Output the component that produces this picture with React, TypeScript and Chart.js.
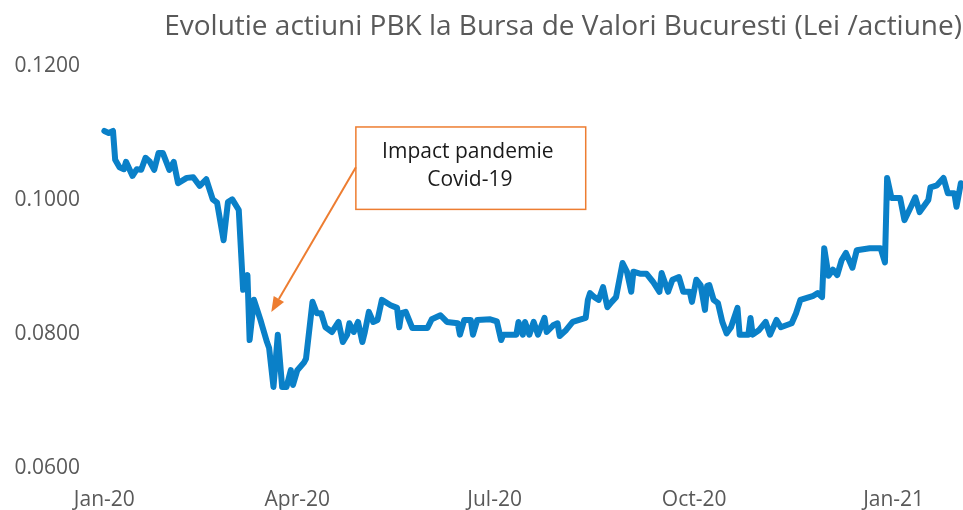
import React, { useEffect, useRef } from 'react';
import { Chart, registerables } from 'chart.js';

Chart.register(...registerables);

// Day offset from 1 Jan 2020
const days = [
  2, 4, 6, 7, 9, 11, 12, 15, 17, 19, 21, 23, 25, 27, 29, 32, 34, 36, 40, 43,
  46, 49, 52, 54, 57, 59, 61, 64, 66, 68, 69, 71, 74, 75, 77, 78, 80, 82, 84, 86,
  88, 89, 91, 94, 95, 98, 100, 102, 104, 107, 110, 112, 114, 115, 117, 119, 121, 122, 124, 126,
  128, 130, 134, 137, 138, 139, 141, 144, 151, 153, 157, 160, 165, 166, 168, 171, 172, 174, 180, 183,
  185, 186, 192, 193, 195, 196, 198, 200, 202, 205, 206, 209, 211, 212, 215, 218, 224, 225, 226, 228,
  230, 232, 234, 236, 238, 241, 243, 245, 246, 249, 252, 255, 258, 259, 262, 264, 267, 269, 272, 273,
  275, 277, 279, 280, 281, 283, 285, 287, 289, 291, 294, 295, 299, 300, 301, 304, 307, 309, 312, 314,
  319, 321, 323, 329, 331, 333, 334, 336, 338, 340, 342, 344, 347, 349, 355, 360, 362, 363, 365, 369,
  371, 374, 376, 378, 382, 383, 386, 389, 391, 394, 395, 397,
];

// PBK share price (Lei / share)
const prices = [
  0.1103, 0.1100, 0.1103, 0.1060, 0.1049, 0.1046, 0.1057, 0.1036, 0.1046, 0.1045,
  0.1063, 0.1057, 0.1045, 0.1070, 0.1070, 0.1045, 0.1057, 0.1025, 0.1033, 0.1034,
  0.1021, 0.1031, 0.1001, 0.0996, 0.0940, 0.0997, 0.1001, 0.0985, 0.0866, 0.0888,
  0.0791, 0.0851, 0.0821, 0.0810, 0.0788, 0.0779, 0.0721, 0.0799, 0.0721, 0.0721,
  0.0746, 0.0724, 0.0746, 0.0757, 0.0763, 0.0848, 0.0831, 0.0831, 0.0810, 0.0803,
  0.0818, 0.0788, 0.0799, 0.0816, 0.0803, 0.0818, 0.0788, 0.0801, 0.0833, 0.0818,
  0.0821, 0.0851, 0.0843, 0.0839, 0.0810, 0.0831, 0.0833, 0.0809, 0.0809, 0.0822,
  0.0828, 0.0818, 0.0816, 0.0799, 0.0821, 0.0821, 0.0799, 0.0821, 0.0822, 0.0819,
  0.0791, 0.0799, 0.0799, 0.0818, 0.0799, 0.0818, 0.0799, 0.0818, 0.0799, 0.0824,
  0.0803, 0.0813, 0.0816, 0.0797, 0.0806, 0.0818, 0.0824, 0.0851, 0.0861, 0.0855,
  0.0851, 0.0870, 0.0840, 0.0848, 0.0855, 0.0906, 0.0893, 0.0863, 0.0893, 0.0890,
  0.0890, 0.0878, 0.0863, 0.0891, 0.0863, 0.0881, 0.0885, 0.0863, 0.0863, 0.0848,
  0.0881, 0.0873, 0.0836, 0.0872, 0.0873, 0.0851, 0.0846, 0.0818, 0.0801, 0.0810,
  0.0839, 0.0799, 0.0799, 0.0824, 0.0799, 0.0806, 0.0818, 0.0799, 0.0821, 0.0810,
  0.0816, 0.0831, 0.0851, 0.0857, 0.0861, 0.0855, 0.0928, 0.0887, 0.0896, 0.0888,
  0.0910, 0.0921, 0.0899, 0.0925, 0.0928, 0.0928, 0.0907, 0.1033, 0.1003, 0.1003,
  0.0970, 0.0990, 0.1004, 0.0982, 0.1000, 0.1019, 0.1022, 0.1033, 0.1010, 0.1010,
  0.0990, 0.1025,
];

const xTickDays = [2, 91, 182, 274, 366];
const xTickLabels = ['Jan-20', 'Apr-20', 'Jul-20', 'Oct-20', 'Jan-21'];
const yTicks = [0.06, 0.08, 0.1, 0.12];
const titleText = 'Evolutie actiuni PBK la Bursa de Valori Bucuresti (Lei /actiune)';
const noteLines = ['Impact pandemie', 'Covid-19'];

// annotation anchors in data units (day, price)
const noteBox = { left: 118, right: 224, top: 0.1109, bottom: 0.0986 };
const arrowFrom = { x: 118, y: 0.1049 };
const arrowTo = { x: 79, y: 0.0833 };

const FONT = '"Open Sans", sans-serif';
const GREY = '#595959';
const ORANGE = '#ED7D31';
const BLUE = '#0a80c8';

const decorPlugin = {
  id: 'decor',
  afterDraw(chart: any) {
    const { ctx, scales } = chart;
    const xs = scales.x;
    const ys = scales.y;
    ctx.save();
    // title
    ctx.font = `28px ${FONT}`;
    ctx.fillStyle = GREY;
    ctx.textAlign = 'right';
    ctx.textBaseline = 'middle';
    ctx.fillText(titleText, 962, 27);

    // note box
    const bl = xs.getPixelForValue(noteBox.left);
    const br = xs.getPixelForValue(noteBox.right);
    const bt = ys.getPixelForValue(noteBox.top);
    const bb = ys.getPixelForValue(noteBox.bottom);
    ctx.fillStyle = '#ffffff';
    ctx.fillRect(bl, bt, br - bl, bb - bt);
    ctx.strokeStyle = ORANGE;
    ctx.lineWidth = 1.5;
    ctx.strokeRect(bl, bt, br - bl, bb - bt);
    ctx.fillStyle = '#1a1a1a';
    ctx.font = `21px ${FONT}`;
    ctx.textAlign = 'center';
    const cx = (bl + br) / 2;
    ctx.fillText(noteLines[0], cx - 3, bt + 25);
    ctx.fillText(noteLines[1], cx - 1, bt + 53);

    // arrow
    const x1 = xs.getPixelForValue(arrowFrom.x);
    const y1 = ys.getPixelForValue(arrowFrom.y);
    const x2 = xs.getPixelForValue(arrowTo.x);
    const y2 = ys.getPixelForValue(arrowTo.y);
    const ang = Math.atan2(y2 - y1, x2 - x1);
    const headLen = 15;
    const headW = 6;
    const bx = x2 - headLen * Math.cos(ang);
    const by = y2 - headLen * Math.sin(ang);
    ctx.strokeStyle = ORANGE;
    ctx.lineWidth = 2;
    ctx.beginPath();
    ctx.moveTo(x1, y1);
    ctx.lineTo(bx, by);
    ctx.stroke();
    ctx.fillStyle = ORANGE;
    ctx.beginPath();
    ctx.moveTo(x2, y2);
    ctx.lineTo(bx + headW * Math.sin(ang), by - headW * Math.cos(ang));
    ctx.lineTo(bx - headW * Math.sin(ang), by + headW * Math.cos(ang));
    ctx.closePath();
    ctx.fill();
    ctx.restore();
  },
};

export default function App() {
  const ref = useRef<HTMLCanvasElement | null>(null);

  useEffect(() => {
    if (!ref.current) return;
    const chart = new Chart(ref.current, {
      type: 'line',
      data: {
        datasets: [
          {
            data: days.map((d, i) => ({ x: d, y: prices[i] })),
            borderColor: BLUE,
            borderWidth: 6,
            pointRadius: 0,
            tension: 0,
            fill: false,
            borderJoinStyle: 'round',
            borderCapStyle: 'round',
          },
        ],
      },
      options: {
        animation: false,
        responsive: false,
        layout: { padding: { top: 66, right: 0, left: 0, bottom: 0 } },
        plugins: {
          legend: { display: false },
          tooltip: { enabled: false },
          title: { display: false },
        },
        scales: {
          x: {
            type: 'linear',
            min: 0,
            max: 398,
            grid: { display: false, drawTicks: false },
            border: { display: false },
            afterBuildTicks: (axis: any) => {
              axis.ticks = xTickDays.map((v) => ({ value: v }));
            },
            afterFit: (axis: any) => {
              axis.height = 42;
            },
            ticks: {
              autoSkip: false,
              maxRotation: 0,
              color: GREY,
              padding: 19,
              font: { family: FONT, size: 21 },
              callback: (v: any) => {
                const i = xTickDays.indexOf(Number(v));
                return i >= 0 ? xTickLabels[i] : '';
              },
            },
          },
          y: {
            min: 0.06,
            max: 0.12,
            grid: { display: false, drawTicks: false },
            border: { display: false },
            afterBuildTicks: (axis: any) => {
              axis.ticks = yTicks.map((v) => ({ value: v }));
            },
            afterFit: (axis: any) => {
              axis.width = 100;
            },
            ticks: {
              color: GREY,
              padding: 20,
              font: { family: FONT, size: 21 },
              callback: (v: any) => Number(v).toFixed(4),
            },
          },
        },
      },
      plugins: [decorPlugin],
    } as any);
    return () => chart.destroy();
  }, []);

  return (
    <div style={{ position: 'absolute', left: 0, top: 0, width: 963, height: 510, background: '#fff' }}>
      <canvas ref={ref} width={963} height={510} style={{ width: 963, height: 510 }} />
    </div>
  );
}
